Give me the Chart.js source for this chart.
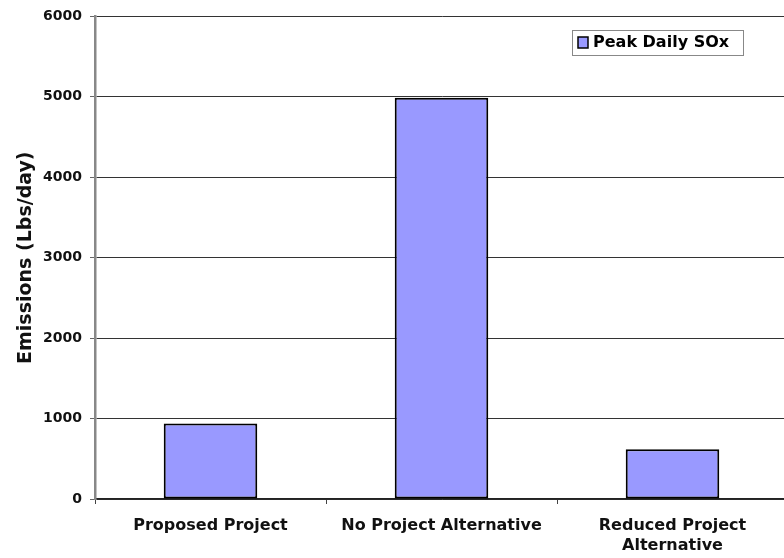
<!DOCTYPE html>
<html>
<head>
<meta charset="utf-8">
<script src="https://cdn.jsdelivr.net/npm/chart.js@4/dist/chart.umd.min.js"></script>
<style>
  html, body { margin: 0; padding: 0; background: #fff; overflow: hidden; }
  #wrap { position: absolute; left: 0; top: 0; width: 792px; height: 558px; }
</style>
</head>
<body>
<div id="wrap"><canvas id="sox-chart"></canvas></div>
<script>
const categories = ['Proposed Project', 'No Project Alternative', ['Reduced Project', 'Alternative']];
const peakDailySOx = [940, 4990, 620];
const seriesLabel = 'Peak Daily SOx';
const yTicks = [0, 1000, 2000, 3000, 4000, 5000, 6000];
const yTitle = 'Emissions (Lbs/day)';

const FONT = "'DejaVu Sans', Verdana, sans-serif";

// legend drawn as a bordered box inside the plot, top right
const boxedLegend = {
  id: 'boxedLegend',
  afterDraw(chart) {
    const ctx = chart.ctx;
    const x = 572, y = 30, w = 171, h = 25;
    ctx.save();
    ctx.fillStyle = '#fff';
    ctx.fillRect(x, y, w, h);
    ctx.strokeStyle = '#888';
    ctx.lineWidth = 1;
    ctx.strokeRect(x + 0.5, y + 0.5, w, h);
    const ds = chart.data.datasets[0];
    ctx.fillStyle = ds.backgroundColor;
    ctx.fillRect(578, 37, 10, 11);
    ctx.strokeStyle = '#000';
    ctx.lineWidth = 1.5;
    ctx.strokeRect(578, 37, 10, 11);
    ctx.fillStyle = '#000';
    ctx.font = 'bold 16px ' + FONT;
    ctx.textBaseline = 'middle';
    ctx.fillText(ds.label, 593, 43);
    ctx.restore();
  }
};

new Chart(document.getElementById('sox-chart'), {
  type: 'bar',
  data: {
    labels: categories,
    datasets: [{
      label: seriesLabel,
      data: peakDailySOx,
      backgroundColor: '#9999ff',
      borderColor: '#000',
      borderWidth: 2,
      borderSkipped: false,
      barPercentage: 0.5,
      categoryPercentage: 0.81
    }]
  },
  options: {
    responsive: true,
    maintainAspectRatio: false,
    animation: false,
    layout: { padding: { top: 10, right: 4, left: 0, bottom: 0 } },
    plugins: {
      legend: { display: false },
      tooltip: { enabled: false }
    },
    scales: {
      x: {
        grid: {
          offset: true,
          drawOnChartArea: false,
          drawTicks: true,
          tickLength: 5,
          color: '#444'
        },
        border: { color: '#222', width: 1.5 },
        ticks: {
          color: '#111',
          font: { family: FONT, size: 16, weight: 'bold', lineHeight: 1.3 },
          padding: 11,
          maxRotation: 0
        },
        afterFit(scale) { scale.height = 59; }
      },
      y: {
        min: 0,
        max: 6000,
        afterBuildTicks(scale) { scale.ticks = yTicks.map(v => ({ value: v })); },
        grid: {
          color: '#333',
          lineWidth: 1,
          drawTicks: true,
          tickLength: 5,
          tickColor: '#666'
        },
        border: { color: '#888', width: 2.5 },
        ticks: {
          color: '#111',
          font: { family: FONT, size: 14, weight: 'bold' },
          padding: 8,
          callback: v => String(v)
        },
        title: {
          display: true,
          text: yTitle,
          color: '#111',
          font: { family: FONT, size: 19, weight: 'bold' },
          padding: { top: 15, bottom: 0 }
        },
        afterFit(scale) { scale.width = 95; }
      }
    }
  },
  plugins: [boxedLegend]
});
</script>
</body>
</html>
